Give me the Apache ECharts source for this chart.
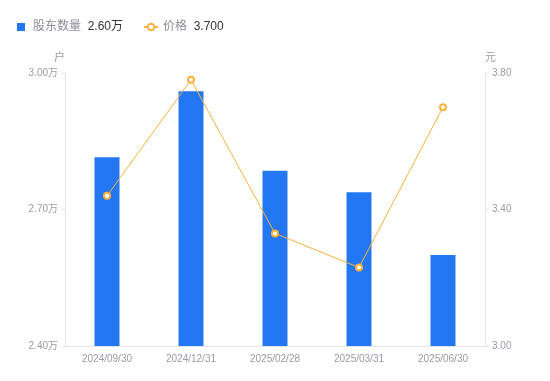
<!DOCTYPE html>
<html><head><meta charset="utf-8">
<script src="https://cdn.jsdelivr.net/npm/echarts@6/dist/echarts.min.js"></script>
<style>html,body{margin:0;padding:0;background:#fff}#c{width:550px;height:381px}</style>
</head><body><div id="c"></div>
<script>
var categories = ['2024/09/30','2024/12/31','2025/02/28','2025/03/31','2025/06/30'];
var holders = [28150, 29600, 27850, 27380, 26000];
var prices = [3.44, 3.78, 3.33, 3.23, 3.70];
var leftTicks = [24000, 30000, 3000];
var rightTicks = [3.0, 3.8, 0.4];

var chart = echarts.init(document.getElementById('c'));
var font = '"Liberation Sans", "Noto Sans CJK SC", sans-serif';
var lastH = (holders[holders.length-1]/10000).toFixed(2) + '万';
var lastP = prices[prices.length-1].toFixed(3);
chart.setOption({
  animation: false,
  textStyle: {fontFamily: font},
  legend: {
    left: 12, top: 16, itemWidth: 14, itemHeight: 8, itemGap: 20,
    data: [{name:'股东数量', icon:'path://M0,0h10v10h-10z'}, {name:'价格'}],
    formatter: function(n){ return n === '股东数量' ? '{a|股东数量}  {b|' + lastH + '}' : '{a|价格}  {b|' + lastP + '}'; },
    textStyle: {rich: {a:{color:'#8b8c99', fontSize:12, fontFamily:font}, b:{color:'#333', fontSize:12, fontFamily:font}}}
  },
  grid: {left: 65, right: 65, top: 73, bottom: 35},
  xAxis: {
    type: 'category', data: categories,
    axisLine: {lineStyle: {color: '#e3e3e8'}},
    axisTick: {show: false},
    axisLabel: {color: '#9a9aa8', fontSize: 10, margin: 8, fontFamily: font}
  },
  yAxis: [{
    type: 'value', min: leftTicks[0], max: leftTicks[1], interval: leftTicks[2],
    name: '户', nameGap: 10, nameTextStyle: {color:'#9a9aa8', fontSize: 11, align: 'right'},
    axisLine: {show: true, lineStyle: {color: '#e3e3e8'}},
    axisTick: {show: true, length: 4, lineStyle: {color: '#e3e3e8'}},
    splitLine: {show: false},
    axisLabel: {color: '#9a9aa8', fontSize: 10, margin: 7, fontFamily: font, formatter: function(v){ return (v/10000).toFixed(2) + '万'; }}
  }, {
    type: 'value', min: rightTicks[0], max: rightTicks[1], interval: rightTicks[2],
    name: '元', nameGap: 10, nameTextStyle: {color:'#9a9aa8', fontSize: 11, align: 'left'},
    axisLine: {show: true, lineStyle: {color: '#e3e3e8'}},
    axisTick: {show: true, length: 4, lineStyle: {color: '#e3e3e8'}},
    splitLine: {show: false},
    axisLabel: {color: '#9a9aa8', fontSize: 10, margin: 7, fontFamily: font, formatter: function(v){ return v.toFixed(2); }}
  }],
  series: [{
    name: '股东数量', type: 'bar', data: holders, barWidth: 25,
    itemStyle: {color: '#2477f2'}
  }, {
    name: '价格', type: 'line', yAxisIndex: 1, data: prices,
    symbol: 'circle', symbolSize: 6, showSymbol: true,
    lineStyle: {color: '#fbb13c', width: 1},
    itemStyle: {color: '#fff', borderColor: '#fbb13c', borderWidth: 2}
  }]
});
</script></body></html>
